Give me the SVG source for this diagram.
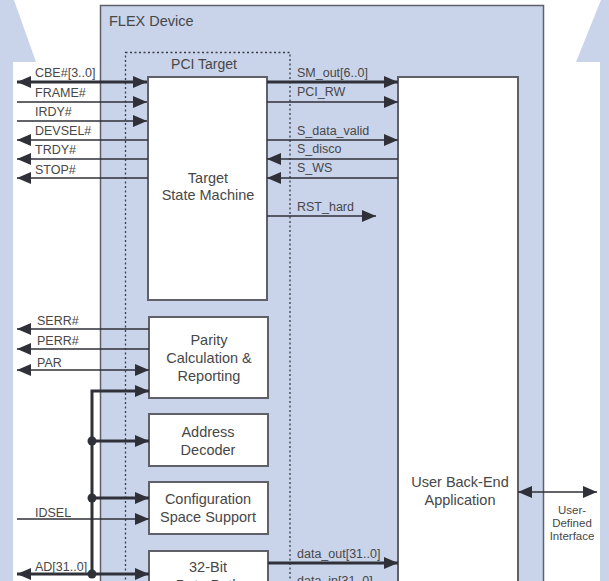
<svg xmlns="http://www.w3.org/2000/svg" width="609" height="581" viewBox="0 0 609 581">
<style>
  .bg{fill:#c9d4eb}
  .dev{fill:#c9d4eb;stroke:#5f6068;stroke-width:1.5}
  .dot{fill:none;stroke:#3a3a44;stroke-width:1.3;stroke-dasharray:2 2.5}
  .box{fill:#fff;stroke:#5f6068;stroke-width:2}
  .t{font-family:"Liberation Sans",Arial,sans-serif;fill:#474747}
  .lbl{font-size:12.5px}
  .bt{font-size:14.5px;text-anchor:middle}
  .ui{font-size:11.5px;text-anchor:middle}
  .thin{fill:none;stroke:#2f3038;stroke-width:1.3}
  .thick{fill:none;stroke:#2f3038;stroke-width:3}
  .j{fill:#2f3038}
</style>
<defs>
  <marker id="ah" markerUnits="userSpaceOnUse" markerWidth="14" markerHeight="12" viewBox="0 0 14 12" refX="14" refY="6" orient="auto-start-reverse">
    <path d="M0,0 L14,6 L0,12 z" fill="#2f3038"/>
  </marker>
</defs>
<rect width="609" height="581" fill="#fff"/>
<g id="background">
  <polygon class="bg" points="0,0 14,0 36,62 13,62 13,581 0,581"/>
  <polygon class="bg" points="601,0 609,0 609,581 600,581 600,62 576,62"/>
</g>
<g id="flex-device">
  <rect class="dev" x="100.5" y="5.5" width="443" height="590"/>
  <text class="t" x="109" y="26" font-size="14.5px">FLEX Device</text>
</g>
<g id="pci-target">
  <rect class="dot" x="125.5" y="52.5" width="164.5" height="540"/>
  <text class="t bt" x="204" y="69" style="font-size:14px">PCI Target</text>
</g>
<g id="target-state-machine">
  <rect class="box" x="148" y="77" width="119" height="223"/>
  <text class="t bt" x="208" y="183">Target</text>
  <text class="t bt" x="208" y="200">State Machine</text>
</g>
<g id="parity">
  <rect class="box" x="149" y="317" width="119" height="81"/>
  <text class="t bt" x="209" y="345">Parity</text>
  <text class="t bt" x="209" y="363">Calculation &amp;</text>
  <text class="t bt" x="209" y="381">Reporting</text>
</g>
<g id="address-decoder">
  <rect class="box" x="149" y="414" width="119" height="52"/>
  <text class="t bt" x="208" y="437">Address</text>
  <text class="t bt" x="208" y="455">Decoder</text>
</g>
<g id="config-space">
  <rect class="box" x="149" y="482" width="119" height="52"/>
  <text class="t bt" x="208" y="504">Configuration</text>
  <text class="t bt" x="208" y="522">Space Support</text>
</g>
<g id="data-path">
  <rect class="box" x="149" y="551" width="119" height="50"/>
  <text class="t bt" x="208" y="572">32-Bit</text>
  <text class="t bt" x="208" y="590">Data Path</text>
</g>
<g id="user-app">
  <rect class="box" x="398" y="77" width="120" height="530"/>
  <text class="t bt" x="460" y="487">User Back-End</text>
  <text class="t bt" x="460" y="505">Application</text>
</g>
<g id="user-interface">
  <text class="t ui" x="572" y="514">User-</text>
  <text class="t ui" x="572" y="527">Defined</text>
  <text class="t ui" x="572" y="540">Interface</text>
</g>
<g id="connectors">
  <path class="thick" d="M17,82 H147" marker-start="url(#ah)" marker-end="url(#ah)"/>
  <path class="thin" d="M17,102 H147" marker-end="url(#ah)"/>
  <path class="thin" d="M17,121 H147" marker-end="url(#ah)"/>
  <path class="thin" d="M148,140 H17" marker-end="url(#ah)"/>
  <path class="thin" d="M148,159 H17" marker-end="url(#ah)"/>
  <path class="thin" d="M148,178 H17" marker-end="url(#ah)"/>

  <path class="thick" d="M267,82 H398" marker-end="url(#ah)"/>
  <path class="thin" d="M267,102 H398" marker-end="url(#ah)"/>
  <path class="thin" d="M267,140 H398" marker-end="url(#ah)"/>
  <path class="thin" d="M398,159 H267" marker-end="url(#ah)"/>
  <path class="thin" d="M398,178 H267" marker-end="url(#ah)"/>
  <path class="thin" d="M267,216 H376" marker-end="url(#ah)"/>

  <path class="thin" d="M149,329 H17" marker-end="url(#ah)"/>
  <path class="thin" d="M149,349 H17" marker-end="url(#ah)"/>
  <path class="thin" d="M17,370 H149" marker-start="url(#ah)" marker-end="url(#ah)"/>

  <path class="thick" d="M92,574 V391 H149" marker-end="url(#ah)"/>
  <path class="thick" d="M92,441 H149" marker-end="url(#ah)"/>
  <path class="thick" d="M92,498 H149" marker-end="url(#ah)"/>
  <path class="thin" d="M17,519 H149" marker-end="url(#ah)"/>
  <path class="thick" d="M17,574 H149" marker-start="url(#ah)" marker-end="url(#ah)"/>
  <circle class="j" cx="92" cy="441" r="4.5"/>
  <circle class="j" cx="92" cy="498" r="4.5"/>
  <circle class="j" cx="92" cy="574" r="4.5"/>

  <path class="thick" d="M268,563 H398" marker-end="url(#ah)"/>
  <path class="thin" d="M518,492 H597" marker-start="url(#ah)" marker-end="url(#ah)"/>

  <g class="t lbl">
    <text x="35" y="77">CBE#[3..0]</text>
    <text x="35" y="97">FRAME#</text>
    <text x="35" y="116">IRDY#</text>
    <text x="35" y="135">DEVSEL#</text>
    <text x="35" y="154">TRDY#</text>
    <text x="35" y="174">STOP#</text>
    <text x="297" y="77">SM_out[6..0]</text>
    <text x="297" y="96">PCI_RW</text>
    <text x="297" y="135">S_data_valid</text>
    <text x="297" y="153">S_disco</text>
    <text x="297" y="172">S_WS</text>
    <text x="297" y="211">RST_hard</text>
    <text x="37" y="325">SERR#</text>
    <text x="37" y="345">PERR#</text>
    <text x="37" y="367">PAR</text>
    <text x="35" y="517">IDSEL</text>
    <text x="35" y="571">AD[31..0]</text>
    <text x="297" y="558">data_out[31..0]</text>
    <text x="297" y="585">data_in[31..0]</text>
  </g>
</g>
</svg>
